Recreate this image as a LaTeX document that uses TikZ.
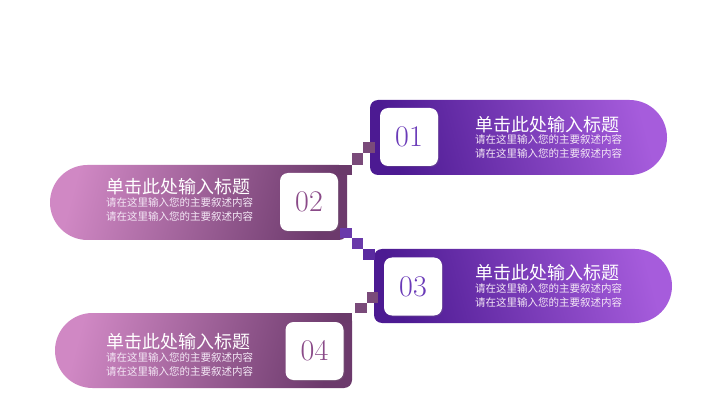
\documentclass[tikz,border=0pt]{standalone}
\usepackage{fontspec}
\newfontfamily\cjk{Noto Sans CJK SC}
\usetikzlibrary{shadows}
\definecolor{indigoL}{HTML}{4C1A92}
\definecolor{violetR}{HTML}{A65CDC}
\definecolor{pinkL}{HTML}{D088C4}
\definecolor{mauveR}{HTML}{6C3A6C}
\definecolor{stepmauve}{HTML}{7A4A7A}
\definecolor{stepdark}{HTML}{6A3A6A}
\definecolor{steppurple}{HTML}{6A3AAA}
\definecolor{stepindigo}{HTML}{5A2AA0}
\definecolor{numpurple}{HTML}{6A3AB8}
\definecolor{nummauve}{HTML}{8A4A88}
\definecolor{subtxt}{HTML}{F4E8F6}
\newcommand\myrpill[4]{% x1,x2,ybot,ytop : rounded on the right
  (#1+8,#4) -- ({#2-(#4-#3)/2},#4) arc[start angle=90,end angle=-90,radius={(#4-#3)/2}]
  -- (#1+8,#3) arc[start angle=270,end angle=180,radius=8] -- (#1,#4-8)
  arc[start angle=180,end angle=90,radius=8] -- cycle}
\newcommand\mylpill[4]{% rounded on the left
  ({#1+(#4-#3)/2},#4) -- (#2-8,#4) arc[start angle=90,end angle=0,radius=8]
  -- (#2,#3+8) arc[start angle=0,end angle=-90,radius=8]
  -- ({#1+(#4-#3)/2},#3) arc[start angle=270,end angle=90,radius={(#4-#3)/2}] -- cycle}
\tikzset{
  purplebox/.style={left color=indigoL,right color=violetR,shading angle=105},
  pinkbox/.style={left color=pinkL,right color=mauveR,shading angle=75},
  numbox/.style={fill=white,rounded corners=8pt,minimum width=58pt,minimum height=58pt,
    inner sep=0pt,font=\fontsize{30}{30}\selectfont,
    drop shadow={opacity=0.25,shadow xshift=1pt,shadow yshift=-1pt}},
  titletxt/.style={anchor=west,inner sep=0pt,text=white,font=\cjk\fontsize{18}{18}\selectfont},
  subtxtstyle/.style={anchor=west,inner sep=0pt,text=subtxt,font=\cjk\fontsize{10.5}{10.5}\selectfont},
}
\begin{document}
\begin{tikzpicture}[x=1pt,y=1pt]
\useasboundingbox (0,0) rectangle (721,405);
\fill[white] (0,0) rectangle (721,405);
% boxes
\shade[purplebox] \myrpill{370}{667}{230}{305};
\shade[pinkbox] \mylpill{50}{347}{165}{240};
\shade[purplebox] \myrpill{374}{672}{82}{156};
\shade[pinkbox] \mylpill{55}{352}{17}{92};
% staircase 1-2
\fill[stepmauve] (363,252) rectangle (375,263);
\fill[stepmauve] (352,240) rectangle (363,252);
\fill[stepdark] (338,230) rectangle (352,240);
% staircase 2-3
\fill[steppurple] (340,167) rectangle (352,177);
\fill[steppurple] (352,156) rectangle (363,167);
\fill[stepindigo] (363,145) rectangle (375,156);
% staircase 3-4
\fill[stepmauve] (367,102) rectangle (378,113);
\fill[stepmauve] (355,92) rectangle (367,102);
\fill[stepdark] (340,82) rectangle (352,92);
% number squares
\node[numbox,text=numpurple] (n1) at (409,268) {01};
\node[numbox,text=nummauve] (n2) at (309,203) {02};
\node[numbox,text=numpurple] (n3) at (413,118.5) {03};
\node[numbox,text=nummauve] (n4) at (314.5,54) {04};
% texts
\node[titletxt] (t1) at (475,280) {单击此处输入标题};
\node[subtxtstyle] (s1a) at (475,265) {请在这里输入您的主要叙述内容};
\node[subtxtstyle] (s1b) at (475,251) {请在这里输入您的主要叙述内容};
\node[titletxt] (t2) at (106,218) {单击此处输入标题};
\node[subtxtstyle] (s2a) at (106,202) {请在这里输入您的主要叙述内容};
\node[subtxtstyle] (s2b) at (106,188) {请在这里输入您的主要叙述内容};
\node[titletxt] (t3) at (475,132) {单击此处输入标题};
\node[subtxtstyle] (s3a) at (475,116) {请在这里输入您的主要叙述内容};
\node[subtxtstyle] (s3b) at (475,102) {请在这里输入您的主要叙述内容};
\node[titletxt] (t4) at (106,63) {单击此处输入标题};
\node[subtxtstyle] (s4a) at (106,47) {请在这里输入您的主要叙述内容};
\node[subtxtstyle] (s4b) at (106,33) {请在这里输入您的主要叙述内容};
\end{tikzpicture}
\end{document}
